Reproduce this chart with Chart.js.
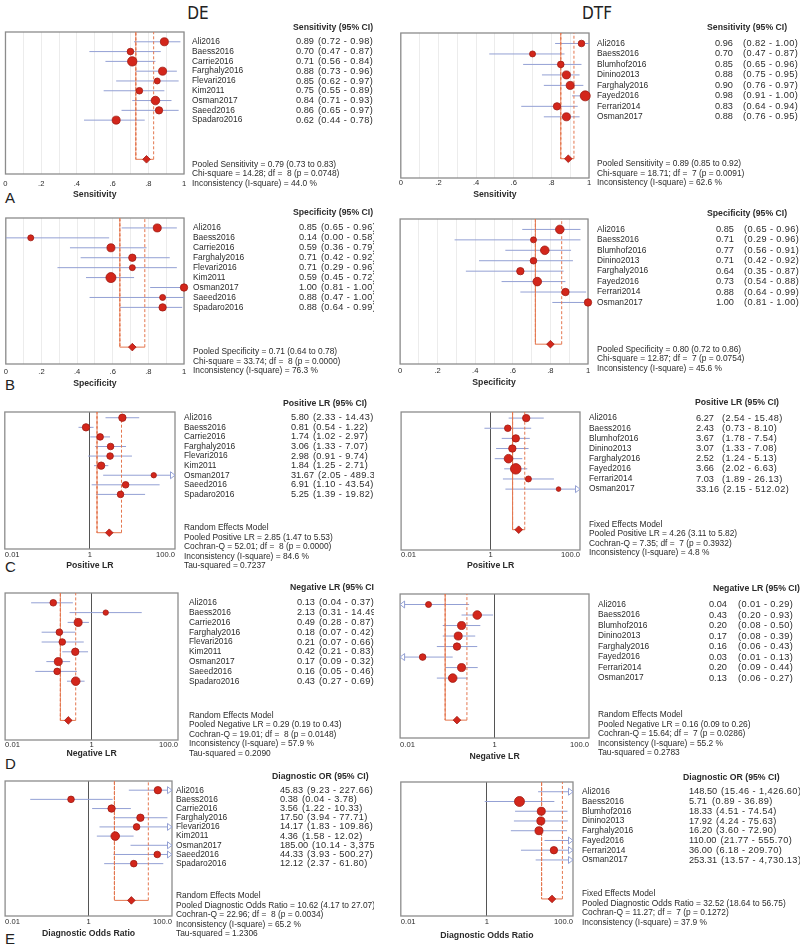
<!DOCTYPE html>
<html>
<head>
<meta charset="utf-8">
<title>Forest plots DE / DTF</title>
<script src="https://cdn.jsdelivr.net/npm/chart.js@4.4.1/dist/chart.umd.min.js"></script>
<style>
    body { margin: 0; width: 800px; height: 947px; position: relative; overflow: hidden; background: #fff; font-family: "Liberation Sans", Arial, sans-serif; }
    canvas { position: absolute; }
    .head { position: absolute; top: 4px; width: 100px; text-align: center; font: 18px/18px "DejaVu Sans", sans-serif; color: #222; transform: scaleX(0.85); }
    .letter { position: absolute; left: 5px; font-size: 15px; line-height: 15px; color: #222; }
</style>
</head>
<body>
<div class="head" style="left:148px">DE</div>
<div class="head" style="left:547px">DTF</div>
<div class="letter" style="top:190px">A</div>
<div class="letter" style="top:377px">B</div>
<div class="letter" style="top:559px">C</div>
<div class="letter" style="top:756px">D</div>
<div class="letter" style="top:931px">E</div>
<script>
// studies
const deStudies = ['Ali2016', 'Baess2016', 'Carrie2016', 'Farghaly2016', 'Flevari2016', 'Kim2011', 'Osman2017', 'Saeed2016', 'Spadaro2016'];
const dtfStudies = ['Ali2016', 'Baess2016', 'Blumhof2016', 'Dinino2013', 'Farghaly2016', 'Fayed2016', 'Ferrari2014', 'Osman2017'];

const sensTicks = ['0', '.2', '.4', '.6', '.8', '1'];
const logTicks = ['0.01', '1', '100.0'];

// A - sensitivity
const deSens = [0.89, 0.70, 0.71, 0.88, 0.85, 0.75, 0.84, 0.86, 0.62];
const deSensLo = [0.72, 0.47, 0.56, 0.73, 0.62, 0.55, 0.71, 0.65, 0.44];
const deSensHi = [0.98, 0.87, 0.84, 0.96, 0.97, 0.89, 0.93, 0.97, 0.78];
const deSensWt = [1.17, 0.8, 1.6, 1.17, 0.66, 0.8, 1.35, 1, 1.17];
const deSensPool = [0.79, 0.73, 0.83];
const deSensStats = ['Chi-square = 14.28; df =  8 (p = 0.0748)', 'Inconsistency (I-square) = 44.0 %'];

const dtfSens = [0.96, 0.70, 0.85, 0.88, 0.90, 0.98, 0.83, 0.88];
const dtfSensLo = [0.82, 0.47, 0.65, 0.75, 0.76, 0.91, 0.64, 0.76];
const dtfSensHi = [1.00, 0.87, 0.96, 0.95, 0.97, 1.00, 0.94, 0.95];
const dtfSensWt = [0.8, 0.66, 0.8, 1.17, 1.17, 1.83, 1, 1.17];
const dtfSensPool = [0.89, 0.85, 0.92];
const dtfSensStats = ['Chi-square = 18.71; df =  7 (p = 0.0091)', 'Inconsistency (I-square) = 62.6 %'];

// B - specificity
const deSpec = [0.85, 0.14, 0.59, 0.71, 0.71, 0.59, 1.00, 0.88, 0.88];
const deSpecLo = [0.65, 0.00, 0.36, 0.42, 0.29, 0.45, 0.81, 0.47, 0.64];
const deSpecHi = [0.96, 0.58, 0.79, 0.92, 0.96, 0.72, 1.00, 1.00, 0.99];
const deSpecWt = [1.17, 0.66, 1.17, 1, 0.66, 1.83, 1, 0.66, 1];
const deSpecPool = [0.71, 0.64, 0.78];
const deSpecStats = ['Chi-square = 33.74; df =  8 (p = 0.0000)', 'Inconsistency (I-square) = 76.3 %'];

const dtfSpec = [0.85, 0.71, 0.77, 0.71, 0.64, 0.73, 0.88, 1.00];
const dtfSpecLo = [0.65, 0.29, 0.56, 0.42, 0.35, 0.54, 0.64, 0.81];
const dtfSpecHi = [0.96, 0.96, 0.91, 0.92, 0.87, 0.88, 0.99, 1.00];
const dtfSpecWt = [1.35, 0.66, 1.35, 0.8, 1, 1.35, 1, 1];
const dtfSpecPool = [0.80, 0.72, 0.86];
const dtfSpecStats = ['Chi-square = 12.87; df =  7 (p = 0.0754)', 'Inconsistency (I-square) = 45.6 %'];

// C - positive LR
const dePlr = [5.80, 0.81, 1.74, 3.06, 2.98, 1.84, 31.67, 6.91, 5.25];
const dePlrLo = [2.33, 0.54, 1.02, 1.33, 0.91, 1.25, 2.05, 1.10, 1.39];
const dePlrHi = [14.43, 1.22, 2.97, 7.07, 9.74, 2.71, 489.37, 43.54, 19.82];
const dePlrWt = [1, 1, 0.8, 0.8, 0.8, 1, 0.53, 0.8, 0.8];
const dePlrPool = [2.85, 1.47, 5.53];
const dePlrStats = ['Cochran-Q = 52.01; df =  8 (p = 0.0000)', 'Inconsistency (I-square) = 84.6 %', 'Tau-squared = 0.7237'];

const dtfPlr = [6.27, 2.43, 3.67, 3.07, 2.52, 3.66, 7.03, 33.16];
const dtfPlrLo = [2.54, 0.73, 1.78, 1.33, 1.24, 2.02, 1.89, 2.15];
const dtfPlrHi = [15.48, 8.10, 7.54, 7.08, 5.13, 6.63, 26.13, 512.02];
const dtfPlrWt = [1, 0.8, 1, 1, 1.35, 2.05, 0.66, 0.39];
const dtfPlrPool = [4.26, 3.11, 5.82];
const dtfPlrStats = ['Cochran-Q = 7.35; df =  7 (p = 0.3932)', 'Inconsistency (I-square) = 4.8 %'];

// D - negative LR
const deNlr = [0.13, 2.13, 0.49, 0.18, 0.21, 0.42, 0.17, 0.16, 0.43];
const deNlrLo = [0.04, 0.31, 0.28, 0.07, 0.07, 0.21, 0.09, 0.05, 0.27];
const deNlrHi = [0.37, 14.49, 0.87, 0.42, 0.66, 0.83, 0.32, 0.46, 0.69];
const deNlrWt = [0.8, 0.53, 1.17, 0.8, 0.8, 1, 1.17, 0.8, 1.35];
const deNlrPool = [0.29, 0.19, 0.43];
const deNlrStats = ['Cochran-Q = 19.01; df =  8 (p = 0.0148)', 'Inconsistency (I-square) = 57.9 %', 'Tau-squared = 0.2090'];

const dtfNlr = [0.04, 0.43, 0.20, 0.17, 0.16, 0.03, 0.20, 0.13];
const dtfNlrLo = [0.01, 0.20, 0.08, 0.08, 0.06, 0.01, 0.09, 0.06];
const dtfNlrHi = [0.29, 0.93, 0.50, 0.39, 0.43, 0.13, 0.44, 0.27];
const dtfNlrWt = [0.66, 1.35, 1.17, 1.17, 1, 0.8, 1.17, 1.35];
const dtfNlrPool = [0.16, 0.09, 0.26];
const dtfNlrStats = ['Cochran-Q = 15.64; df =  7 (p = 0.0286)', 'Inconsistency (I-square) = 55.2 %', 'Tau-squared = 0.2783'];

// E - diagnostic odds ratio
const deDor = [45.83, 0.38, 3.56, 17.50, 14.17, 4.36, 185.00, 44.33, 12.12];
const deDorLo = [9.23, 0.04, 1.22, 3.94, 1.83, 1.58, 10.14, 3.93, 2.37];
const deDorHi = [227.66, 3.78, 10.33, 77.71, 109.86, 12.02, 3375.53, 500.27, 61.80];
const deDorWt = [1, 0.8, 1, 1, 0.8, 1.35, 0.8, 0.8, 0.8];
const deDorPool = [10.62, 4.17, 27.07];
const deDorStats = ['Cochran-Q = 22.96; df =  8 (p = 0.0034)', 'Inconsistency (I-square) = 65.2 %', 'Tau-squared = 1.2306'];

const dtfDor = [148.50, 5.71, 18.33, 17.92, 16.20, 110.00, 36.00, 253.31];
const dtfDorLo = [15.46, 0.89, 4.51, 4.24, 3.60, 21.77, 6.18, 13.57];
const dtfDorHi = [1426.60, 36.89, 74.54, 75.63, 72.90, 555.70, 209.70, 4730.13];
const dtfDorWt = [1, 1.83, 1.17, 1.17, 1.17, 1, 1, 1];
const dtfDorPool = [32.52, 18.64, 56.75];
const dtfDorStats = ['Cochran-Q = 11.27; df =  7 (p = 0.1272)', 'Inconsistency (I-square) = 37.9 %'];

const FONT = '"Liberation Sans", Arial, sans-serif';
const FS = 8.4;
const HFS = 8.7;
const CIFS = 9.2;
const CI_COL = '#93a0d4';
const DOT_COL = '#d3261b';
const DOT_EDGE = '#a01a12';
const POOL_COL = '#e4774f';
const TXT = '#2b2b2b';

// panel placement on the page (box = left, right, top, bottom of the plot frame)
const geo = {
    sensDE:  { cx: 0,   cw: 374, box: [4, 184, 32, 174],   tickY: 184, titleY: 195, ymin: -1,   ymax: 13.5,  nameX: 192, valX: 296, ciX: 316, hdrX: 293 },
    sensDTF: { cx: 395, cw: 405, box: [398, 589, 33, 178], tickY: 183, titleY: 195, ymin: -1,   ymax: 12.84, nameX: 597, valX: 715, ciX: 743, hdrX: 707 },
    specDE:  { cx: 0,   cw: 374, box: [4, 184, 218, 364],  tickY: 372, titleY: 384, ymin: -1,   ymax: 13.7,  nameX: 193, valX: 299, ciX: 316, hdrX: 293 },
    specDTF: { cx: 395, cw: 405, box: [398, 588, 219, 364], tickY: 371, titleY: 383, ymin: -1,  ymax: 12.9,  nameX: 597, valX: 716, ciX: 744, hdrX: 707 },
    plrDE:   { cx: 0,   cw: 374, box: [4, 175, 412, 549],  tickY: 555, titleY: 566, ymin: -0.6, ymax: 13.7,  nameX: 184, valX: 291, ciX: 302, hdrX: 283 },
    plrDTF:  { cx: 395, cw: 405, box: [398, 580, 412, 550], tickY: 555, titleY: 566, ymin: -0.6, ymax: 13,  nameX: 589, valX: 696, ciX: 722, hdrX: 695 },
    nlrDE:   { cx: 0,   cw: 374, box: [4, 178, 593, 740],  tickY: 745, titleY: 754, ymin: -1,   ymax: 14,    nameX: 189, valX: 297, ciX: 315, hdrX: 290 },
    nlrDTF:  { cx: 395, cw: 405, box: [398, 589, 594, 738], tickY: 745, titleY: 757, ymin: -1,  ymax: 12.7,  nameX: 598, valX: 709, ciX: 738, hdrX: 713 },
    dorDE:   { cx: 0,   cw: 374, box: [4, 172, 781, 916],  tickY: 922, titleY: 934, ymin: -1,   ymax: 13.7,  nameX: 176, valX: 280, ciX: 298, hdrX: 272 },
    dorDTF:  { cx: 395, cw: 405, box: [398, 573, 782, 916], tickY: 922, titleY: 936, ymin: -1,  ymax: 12.75, nameX: 582, valX: 689, ciX: 712, hdrX: 683 }
};

const panels = [
    { g: geo.sensDE, names: deStudies, est: deSens, lo: deSensLo, hi: deSensHi, wt: deSensWt, pool: deSensPool, stats: deSensStats, model: '', log: false,
      header: 'Sensitivity (95% CI)', pooledName: 'Pooled Sensitivity', axis: 'Sensitivity' },
    { g: geo.sensDTF, names: dtfStudies, est: dtfSens, lo: dtfSensLo, hi: dtfSensHi, wt: dtfSensWt, pool: dtfSensPool, stats: dtfSensStats, model: '', log: false,
      header: 'Sensitivity (95% CI)', pooledName: 'Pooled Sensitivity', axis: 'Sensitivity' },
    { g: geo.specDE, names: deStudies, est: deSpec, lo: deSpecLo, hi: deSpecHi, wt: deSpecWt, pool: deSpecPool, stats: deSpecStats, model: '', log: false,
      header: 'Specificity (95% CI)', pooledName: 'Pooled Specificity', axis: 'Specificity' },
    { g: geo.specDTF, names: dtfStudies, est: dtfSpec, lo: dtfSpecLo, hi: dtfSpecHi, wt: dtfSpecWt, pool: dtfSpecPool, stats: dtfSpecStats, model: '', log: false,
      header: 'Specificity (95% CI)', pooledName: 'Pooled Specificity', axis: 'Specificity' },
    { g: geo.plrDE, names: deStudies, est: dePlr, lo: dePlrLo, hi: dePlrHi, wt: dePlrWt, pool: dePlrPool, stats: dePlrStats, model: 'Random Effects Model', log: true,
      header: 'Positive LR (95% CI)', pooledName: 'Pooled Positive LR', axis: 'Positive LR' },
    { g: geo.plrDTF, names: dtfStudies, est: dtfPlr, lo: dtfPlrLo, hi: dtfPlrHi, wt: dtfPlrWt, pool: dtfPlrPool, stats: dtfPlrStats, model: 'Fixed Effects Model', log: true,
      header: 'Positive LR (95% CI)', pooledName: 'Pooled Positive LR', axis: 'Positive LR' },
    { g: geo.nlrDE, names: deStudies, est: deNlr, lo: deNlrLo, hi: deNlrHi, wt: deNlrWt, pool: deNlrPool, stats: deNlrStats, model: 'Random Effects Model', log: true,
      header: 'Negative LR (95% CI)', pooledName: 'Pooled Negative LR', axis: 'Negative LR' },
    { g: geo.nlrDTF, names: dtfStudies, est: dtfNlr, lo: dtfNlrLo, hi: dtfNlrHi, wt: dtfNlrWt, pool: dtfNlrPool, stats: dtfNlrStats, model: 'Random Effects Model', log: true,
      header: 'Negative LR (95% CI)', pooledName: 'Pooled Negative LR', axis: 'Negative LR' },
    { g: geo.dorDE, names: deStudies, est: deDor, lo: deDorLo, hi: deDorHi, wt: deDorWt, pool: deDorPool, stats: deDorStats, model: 'Random Effects Model', log: true,
      header: 'Diagnostic OR (95% CI)', pooledName: 'Pooled Diagnostic Odds Ratio', axis: 'Diagnostic Odds Ratio' },
    { g: geo.dorDTF, names: dtfStudies, est: dtfDor, lo: dtfDorLo, hi: dtfDorHi, wt: dtfDorWt, pool: dtfDorPool, stats: dtfDorStats, model: 'Fixed Effects Model', log: true,
      header: 'Diagnostic OR (95% CI)', pooledName: 'Pooled Diagnostic Odds Ratio', axis: 'Diagnostic Odds Ratio' }
];

function fmt(v) {
    return v.toLocaleString('en-US', { minimumFractionDigits: 2, maximumFractionDigits: 2 });
}

// frame, overflow arrows and the right-hand text table
function forestPlugin(p) {
    return {
        id: 'forest',
        beforeDatasetsDraw(chart) {
            const { ctx, chartArea: a } = chart;
            ctx.save();
            ctx.strokeStyle = '#8c8c8c';
            ctx.lineWidth = 1.3;
            ctx.strokeRect(a.left, a.top, a.right - a.left, a.bottom - a.top);
            ctx.restore();
        },
        afterDraw(chart) {
            const { ctx, chartArea: a, scales: { x, y } } = chart;
            const g = p.g, ox = g.cx, n = p.names.length;
            ctx.save();

            if (p.log) {
                ctx.strokeStyle = CI_COL;
                ctx.fillStyle = '#fff';
                ctx.lineWidth = 1;
                const arrow = (tipX, yy, dir) => {
                    ctx.beginPath();
                    ctx.moveTo(tipX, yy);
                    ctx.lineTo(tipX + dir * 4.5, yy - 3.5);
                    ctx.lineTo(tipX + dir * 4.5, yy + 3.5);
                    ctx.closePath();
                    ctx.fill();
                    ctx.stroke();
                };
                for (let i = 0; i < n; i++) {
                    const yy = y.getPixelForValue(i);
                    if (p.hi[i] >= x.max) arrow(a.right, yy, -1);
                    if (p.lo[i] <= x.min) arrow(a.left, yy, 1);
                }
            }

            ctx.fillStyle = TXT;
            ctx.textBaseline = 'middle';
            ctx.textAlign = 'left';
            ctx.font = `bold ${HFS}px ${FONT}`;
            ctx.fillText(p.header, g.hdrX - ox, y.getPixelForValue(-1.5));

            p.names.forEach((nm, i) => {
                const yy = y.getPixelForValue(i);
                ctx.font = `${FS}px ${FONT}`;
                ctx.fillText(nm, g.nameX - ox, yy);
                const val = fmt(p.est[i]);
                ctx.font = `${CIFS}px ${FONT}`;
                ctx.fillText(val, g.valX - ox, yy);
                const cix = Math.max(g.ciX - ox, g.valX - ox + ctx.measureText(val).width + 4);
                ctx.letterSpacing = '0.4px';
                ctx.fillText(`(${fmt(p.lo[i])} - ${fmt(p.hi[i])})`, cix, yy);
                ctx.letterSpacing = '0px';
            });

            ctx.font = `${FS}px ${FONT}`;
            const lines = [];
            if (p.model) lines.push(p.model);
            lines.push(`${p.pooledName} = ${fmt(p.pool[0])} (${fmt(p.pool[1])} to ${fmt(p.pool[2])})`);
            lines.push(...p.stats);
            const y0 = y.getPixelForValue(n + (p.model ? 2.5 : 3.5));
            lines.forEach((t, k) => ctx.fillText(t, g.nameX - ox, y0 + k * 9.5));
            ctx.restore();
        }
    };
}

function drawPanel(p) {
    const g = p.g;
    const [bl, br, bt, bb] = g.box;
    const top = bt - 20;
    const bottom = g.titleY + 6;
    const n = p.names.length;
    const dRow = n + 3;
    const xmin = p.log ? parseFloat(logTicks[0]) : parseFloat(sensTicks[0]);
    const xmax = p.log ? parseFloat(logTicks[logTicks.length - 1]) : parseFloat(sensTicks[sensTicks.length - 1]);

    const cv = document.createElement('canvas');
    cv.width = g.cw;
    cv.height = bottom - top;
    cv.style.left = g.cx + 'px';
    cv.style.top = top + 'px';
    document.body.appendChild(cv);

    const datasets = [];
    datasets.push({
        type: 'scatter', order: 0, clip: false,
        data: p.est.map((v, i) => ({ x: v, y: i })),
        pointRadius: c => {
            const v = p.est[c.dataIndex];
            return (v >= xmin && v <= xmax) ? 3.7 * Math.sqrt(p.wt[c.dataIndex]) : 0;
        },
        backgroundColor: DOT_COL, borderColor: DOT_EDGE, borderWidth: 0.8
    });
    datasets.push({
        type: 'scatter', order: 1, clip: false,
        data: [{ x: p.pool[0], y: dRow }],
        pointStyle: 'rectRot', pointRadius: 3.8,
        backgroundColor: DOT_COL, borderColor: DOT_EDGE, borderWidth: 0.8
    });
    datasets.push({
        type: 'line', order: 2,
        data: [{ x: p.pool[1], y: g.ymin }, { x: p.pool[1], y: dRow }, { x: p.pool[2], y: dRow }, { x: p.pool[2], y: g.ymin }],
        borderColor: POOL_COL, borderWidth: 1, pointRadius: 0, tension: 0,
        segment: { borderDash: c => c.p0DataIndex === 1 ? [] : [3, 2] }
    });
    p.est.forEach((v, i) => {
        datasets.push({
            type: 'line', order: 3,
            data: [{ x: p.lo[i], y: i }, { x: p.hi[i], y: i }],
            borderColor: CI_COL, borderWidth: 1, pointRadius: 0
        });
    });

    const tickFont = { family: FONT, size: 7.6 };
    const xScale = {
        type: p.log ? 'logarithmic' : 'linear',
        min: xmin,
        max: xmax,
        border: { display: false },
        title: {
            display: true, text: p.axis, color: TXT,
            font: { family: FONT, size: HFS, weight: 'bold' },
            padding: { top: 0, bottom: bottom - g.titleY - HFS * 0.6 }
        },
        afterFit: s => {
            s.height = bottom - bb;
            s.paddingLeft = 0;
            s.paddingRight = 0;
        }
    };
    if (p.log) {
        xScale.afterBuildTicks = s => { s.ticks = logTicks.map(t => ({ value: parseFloat(t) })); };
        xScale.ticks = { align: 'inner', autoSkip: false, maxRotation: 0, color: TXT, font: tickFont,
            padding: g.tickY - bb - 4.5, callback: (v, i) => logTicks[i] };
        xScale.grid = { drawTicks: false, lineWidth: 1, color: c => (c.tick && c.tick.value === 1) ? '#555' : 'rgba(0,0,0,0)' };
    } else {
        xScale.ticks = { stepSize: 0.1, autoSkip: false, maxRotation: 0, color: TXT, font: tickFont,
            padding: g.tickY - bb - 4.5, callback: (v, i) => (i % 2 ? '' : sensTicks[i / 2]) };
        xScale.grid = { drawTicks: false, lineWidth: 1, color: '#ececec' };
    }

    new Chart(cv, {
        type: 'scatter',
        data: { datasets },
        options: {
            responsive: false,
            animation: false,
            events: [],
            layout: { padding: { left: bl - g.cx, right: g.cx + g.cw - br, top: bt - top, bottom: 0 } },
            plugins: { legend: { display: false }, tooltip: { enabled: false } },
            scales: {
                x: xScale,
                y: { type: 'linear', display: false, reverse: true, min: g.ymin, max: g.ymax }
            }
        },
        plugins: [forestPlugin(p)]
    });
}

panels.forEach(drawPanel);
</script>
</body>
</html>
